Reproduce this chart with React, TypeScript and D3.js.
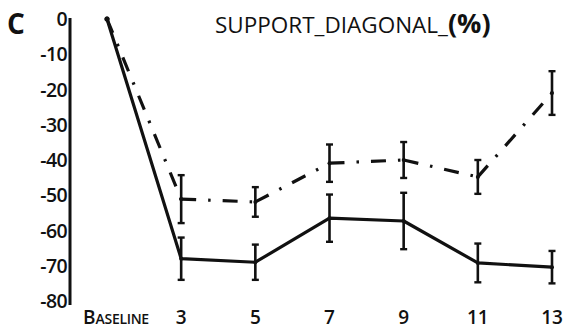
import * as d3 from "d3";
import { useEffect, useRef } from "react";

// categories on the x axis
const timepoints = ["Baseline", "3", "5", "7", "9", "11", "13"];
// solid line: mean change (%) and error half-width
const solidMean = [0, -68, -69, -56.5, -57.3, -69.2, -70.4];
const solidErr = [0, 6, 5, 6.7, 8, 5.5, 4.6];
// dash-dot line: mean change (%) and error half-width
const dashMean = [0, -51.1, -51.9, -40.9, -40, -44.8, -21];
const dashErr = [0, 6.8, 4.2, 5.3, 5.1, 4.8, 6.2];
const yTicks = [0, -10, -20, -30, -40, -50, -60, -70, -80];

const FONT = "'Open Sans', 'Noto Sans', sans-serif";

const App = () => {
  const ref = useRef<SVGSVGElement>(null);

  useEffect(() => {
    const svg = d3.select(ref.current);
    svg.selectAll("*").remove();

    const width = 564;
    const height = 333;
    svg.attr("width", width).attr("height", height);

    svg.append("rect").attr("width", width).attr("height", height).attr("fill", "#fff");

    const x = d3.scalePoint().domain(timepoints).range([107, 552]);
    const y = d3.scaleLinear().domain([0, -80]).range([19, 301]);

    // panel letter
    svg
      .append("text")
      .attr("x", 7)
      .attr("y", 34)
      .attr("font-family", FONT)
      .attr("font-weight", 700)
      .attr("font-size", 28)
      .attr("fill", "#111")
      .text("C");

    // title
    const title = svg
      .append("text")
      .attr("x", 215)
      .attr("y", 33)
      .attr("font-family", FONT)
      .attr("font-size", 22.5)
      .attr("fill", "#111");
    title.append("tspan").text("SUPPORT_DIAGONAL_");
    title.append("tspan").attr("font-weight", 700).attr("font-size", 27).text("(%)");

    // y axis line
    svg
      .append("line")
      .attr("x1", 70)
      .attr("x2", 70)
      .attr("y1", 18)
      .attr("y2", 305)
      .attr("stroke", "#111")
      .attr("stroke-width", 3);

    svg
      .append("g")
      .selectAll("text")
      .data(yTicks)
      .join("text")
      .attr("x", 67)
      .attr("y", (d) => y(d))
      .attr("dy", "0.36em")
      .attr("text-anchor", "end")
      .attr("font-family", FONT)
      .attr("font-weight", 600)
      .attr("font-size", 19.5)
      .attr("letter-spacing", -0.6)
      .attr("fill", "#111")
      .text((d) => d);

    // x labels
    const xl = svg
      .append("g")
      .attr("font-family", FONT)
      .attr("font-weight", 600)
      .attr("fill", "#111");
    timepoints.forEach((t) => {
      if (t === "Baseline") {
        const tx = xl
          .append("text")
          .attr("x", 83)
          .attr("y", 324)
          .attr("font-size", 19);
        tx.append("tspan").text("B");
        tx.append("tspan").attr("font-size", 14).attr("letter-spacing", -0.3).text("ASELINE");
      } else {
        xl.append("text")
          .attr("x", x(t))
          .attr("y", 324)
          .attr("text-anchor", "middle")
          .attr("font-size", 19)
          .text(t);
      }
    });

    const drawSeries = (mean: number[], err: number[], dashed: boolean) => {
      const g = svg.append("g");
      const pts = timepoints.map((t, i) => [x(t) as number, y(mean[i])]);
      if (dashed) {
        // dash pattern restarts at each point
        for (let i = 0; i < pts.length - 1; i++) {
          g.append("path")
            .attr("d", d3.line()([pts[i], pts[i + 1]]))
            .attr("fill", "none")
            .attr("stroke", "#111")
            .attr("stroke-width", 3.2)
            .attr("stroke-dasharray", "15,12,2.5,12");
        }
      } else {
        g.append("path")
          .attr("d", d3.line()(pts as [number, number][]))
          .attr("fill", "none")
          .attr("stroke", "#111")
          .attr("stroke-width", 3.2)
          .attr("stroke-linejoin", "round");
      }
      // error bars
      timepoints.forEach((t, i) => {
        if (err[i] === 0) return;
        const cx = x(t) as number;
        const top = y(mean[i] + err[i]);
        const bot = y(mean[i] - err[i]);
        g.append("line")
          .attr("x1", cx).attr("x2", cx)
          .attr("y1", top).attr("y2", bot)
          .attr("stroke", "#111").attr("stroke-width", 2.6);
        [top, bot].forEach((yy) =>
          g.append("line")
            .attr("x1", cx - 3.5).attr("x2", cx + 3.5)
            .attr("y1", yy).attr("y2", yy)
            .attr("stroke", "#111").attr("stroke-width", 2.4)
        );
        g.append("circle").attr("cx", cx).attr("cy", y(mean[i])).attr("r", 2).attr("fill", "#111");
      });
      g.append("circle").attr("cx", pts[0][0]).attr("cy", pts[0][1]).attr("r", 2.5).attr("fill", "#111");
    };

    drawSeries(dashMean, dashErr, true);
    drawSeries(solidMean, solidErr, false);
  }, []);

  return (
    <svg
      ref={ref}
      style={{ position: "absolute", left: 0, top: 0, display: "block" }}
    ></svg>
  );
};

export default App;
